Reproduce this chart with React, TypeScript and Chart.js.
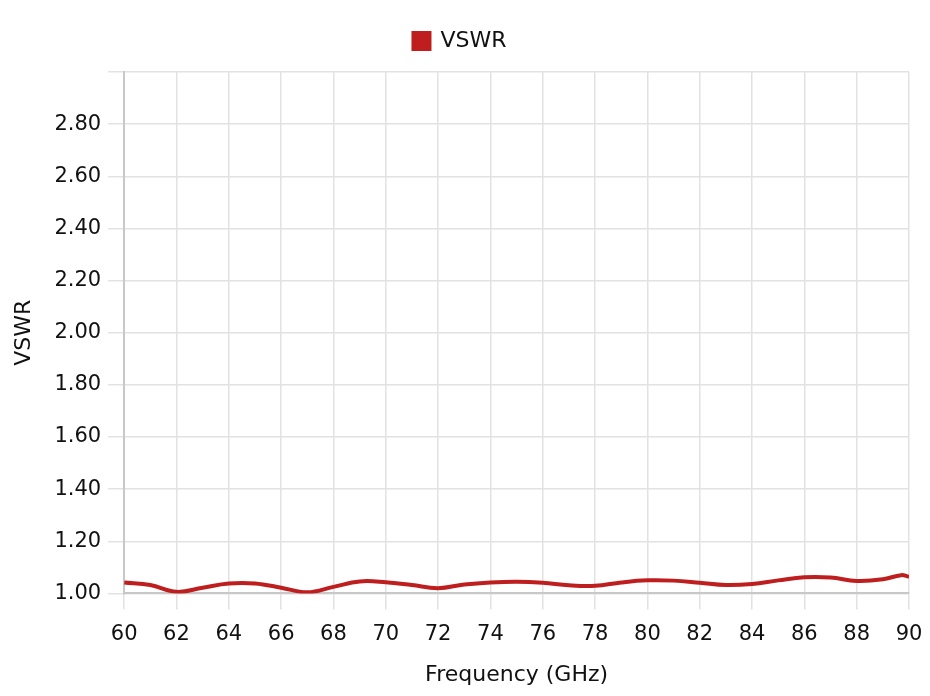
import React, { useEffect, useRef } from "react";
import { Chart, registerables } from "chart.js";

Chart.register(...registerables);

const frequencies: number[] = [60, 61, 62, 63, 64, 65, 66, 67, 68, 69, 70, 71, 72, 73, 74, 75, 76, 77, 78, 79, 80, 81, 82, 83, 84, 85, 86, 87, 88, 89, 89.7, 90];
const vswr: number[] = [1.042, 1.032, 1.006, 1.022, 1.038, 1.038, 1.022, 1.004, 1.025, 1.046, 1.043, 1.032, 1.02, 1.034, 1.042, 1.045, 1.041, 1.031, 1.029, 1.042, 1.05, 1.049, 1.041, 1.032, 1.036, 1.05, 1.062, 1.061, 1.048, 1.054, 1.07, 1.064];
const xTickStep = 2;
const yTickStep = 0.2;
const seriesLabel = "VSWR";
const xTitle = "Frequency (GHz)";
const yTitle = "VSWR";

const FONT = "'DejaVu Sans', sans-serif";
const RED = "rgb(190, 30, 30)";
const SIZE = 21;
const TSIZE = 22;

const legendGap = {
  id: "legendGap",
  beforeInit(chart: any) {
    const legend = chart.legend;
    if (!legend) return;
    const origFit = legend.fit;
    legend.fit = function () {
      origFit.call(this);
      this.height += 10;
    };
  },
};

export default function App() {
  const ref = useRef<HTMLCanvasElement | null>(null);
  useEffect(() => {
    document.body.style.margin = "0";
    if (!ref.current) return;
    const chart = new Chart(ref.current, {
      type: "line",
      data: {
        datasets: [
          {
            label: seriesLabel,
            data: frequencies.map((f, i) => ({ x: f, y: vswr[i] })),
            borderColor: RED,
            backgroundColor: RED,
            borderWidth: 4,
            pointRadius: 0,
            tension: 0.4,
          },
        ],
      },
      plugins: [legendGap],
      options: {
        animation: false,
        responsive: true,
        maintainAspectRatio: false,
        layout: { padding: { left: 11, right: 21, top: 1, bottom: 8 } },
        plugins: {
          legend: {
            display: true,
            position: "top",
            labels: {
              boxWidth: 16,
              boxHeight: 16,
              color: "#111",
              font: { family: FONT, size: TSIZE },
              padding: 29,
            },
          },
          tooltip: { enabled: false },
        },
        scales: {
          x: {
            type: "linear",
            min: 60,
            max: 90,
            afterFit: (s: any) => {
              s.paddingRight = 0;
            },
            ticks: {
              stepSize: xTickStep,
              color: "#111",
              font: { family: FONT, size: SIZE },
              padding: 13,
            },
            grid: { color: "#e2e2e2", lineWidth: 1.5, tickLength: 16 },
            border: { color: "#c8c8c8", width: 2 },
            title: {
              display: true,
              text: xTitle,
              color: "#111",
              font: { family: FONT, size: TSIZE },
              padding: { top: 1, bottom: 0 },
            },
          },
          y: {
            type: "linear",
            min: 1,
            max: 3,
            ticks: {
              stepSize: yTickStep,
              color: "#111",
              font: { family: FONT, size: SIZE },
              padding: 7,
              callback: (v: any) => (Number(v) >= 2.999 ? "" : Number(v).toFixed(2)),
            },
            grid: { color: "#e2e2e2", lineWidth: 1.5, tickLength: 16 },
            border: { color: "#c8c8c8", width: 2 },
            title: {
              display: true,
              text: yTitle,
              color: "#111",
              font: { family: FONT, size: TSIZE },
              padding: { top: 0, bottom: 10 },
            },
          },
        },
      },
    });
    return () => chart.destroy();
  }, []);
  return (
    <div style={{ width: 930, height: 696, position: "relative" }}>
      <canvas ref={ref} />
    </div>
  );
}
